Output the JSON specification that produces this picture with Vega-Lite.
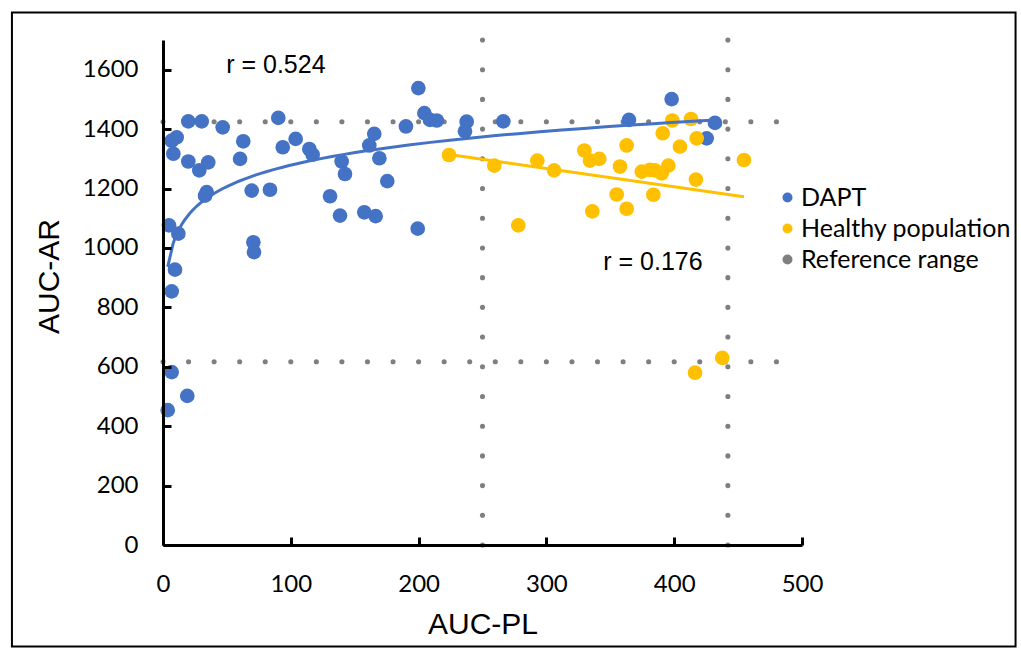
{
  "$schema": "https://vega.github.io/schema/vega-lite/v6.json",
  "width": 639,
  "height": 505,
  "autosize": {"type": "none"},
  "padding": {"left": 163, "top": 40, "right": 219, "bottom": 108},
  "background": "white",
  "config": {"view": {"stroke": null, "fill": null}},
  "datasets": {
    "pts": [
      {"g": "DAPT", "pl": 19.8, "ar": 1426}, {"g": "DAPT", "pl": 30.3, "ar": 1426}, {"g": "DAPT", "pl": 46.7, "ar": 1406},
      {"g": "DAPT", "pl": 90.2, "ar": 1438}, {"g": "DAPT", "pl": 6.8, "ar": 1361}, {"g": "DAPT", "pl": 10.7, "ar": 1372},
      {"g": "DAPT", "pl": 62.8, "ar": 1359}, {"g": "DAPT", "pl": 8.1, "ar": 1317}, {"g": "DAPT", "pl": 19.8, "ar": 1291},
      {"g": "DAPT", "pl": 28.4, "ar": 1261}, {"g": "DAPT", "pl": 35.4, "ar": 1288}, {"g": "DAPT", "pl": 60.3, "ar": 1300},
      {"g": "DAPT", "pl": 93.7, "ar": 1339}, {"g": "DAPT", "pl": 103.8, "ar": 1367}, {"g": "DAPT", "pl": 114.5, "ar": 1333},
      {"g": "DAPT", "pl": 117.1, "ar": 1314}, {"g": "DAPT", "pl": 139.8, "ar": 1291}, {"g": "DAPT", "pl": 142.4, "ar": 1249},
      {"g": "DAPT", "pl": 69.4, "ar": 1193}, {"g": "DAPT", "pl": 83.7, "ar": 1196}, {"g": "DAPT", "pl": 34.2, "ar": 1188},
      {"g": "DAPT", "pl": 32.9, "ar": 1176}, {"g": "DAPT", "pl": 130.7, "ar": 1174}, {"g": "DAPT", "pl": 138.5, "ar": 1109},
      {"g": "DAPT", "pl": 4.7, "ar": 1076}, {"g": "DAPT", "pl": 12, "ar": 1048}, {"g": "DAPT", "pl": 70.7, "ar": 1019},
      {"g": "DAPT", "pl": 71.2, "ar": 986}, {"g": "DAPT", "pl": 9.4, "ar": 927}, {"g": "DAPT", "pl": 6.8, "ar": 854},
      {"g": "DAPT", "pl": 6.8, "ar": 582}, {"g": "DAPT", "pl": 19, "ar": 502}, {"g": "DAPT", "pl": 3.7, "ar": 454},
      {"g": "DAPT", "pl": 199.8, "ar": 1538}, {"g": "DAPT", "pl": 204.5, "ar": 1454}, {"g": "DAPT", "pl": 208.9, "ar": 1431},
      {"g": "DAPT", "pl": 214.2, "ar": 1429}, {"g": "DAPT", "pl": 190.1, "ar": 1409}, {"g": "DAPT", "pl": 237.6, "ar": 1425},
      {"g": "DAPT", "pl": 236.3, "ar": 1393}, {"g": "DAPT", "pl": 266.3, "ar": 1426}, {"g": "DAPT", "pl": 165.3, "ar": 1384},
      {"g": "DAPT", "pl": 161.4, "ar": 1345}, {"g": "DAPT", "pl": 169.3, "ar": 1302}, {"g": "DAPT", "pl": 175.5, "ar": 1225},
      {"g": "DAPT", "pl": 157.5, "ar": 1120}, {"g": "DAPT", "pl": 166.4, "ar": 1107}, {"g": "DAPT", "pl": 199.3, "ar": 1065},
      {"g": "DAPT", "pl": 398, "ar": 1501}, {"g": "DAPT", "pl": 364.6, "ar": 1431}, {"g": "DAPT", "pl": 431.9, "ar": 1421},
      {"g": "DAPT", "pl": 425.4, "ar": 1369},
      {"g": "Healthy population", "pl": 223.8, "ar": 1313}, {"g": "Healthy population", "pl": 259.2, "ar": 1277},
      {"g": "Healthy population", "pl": 292.9, "ar": 1294}, {"g": "Healthy population", "pl": 306, "ar": 1261},
      {"g": "Healthy population", "pl": 278, "ar": 1076}, {"g": "Healthy population", "pl": 398.5, "ar": 1429},
      {"g": "Healthy population", "pl": 413.1, "ar": 1434}, {"g": "Healthy population", "pl": 391, "ar": 1386},
      {"g": "Healthy population", "pl": 417.6, "ar": 1369}, {"g": "Healthy population", "pl": 404.5, "ar": 1341},
      {"g": "Healthy population", "pl": 362.8, "ar": 1345}, {"g": "Healthy population", "pl": 329.7, "ar": 1328},
      {"g": "Healthy population", "pl": 334.1, "ar": 1294}, {"g": "Healthy population", "pl": 341.4, "ar": 1300},
      {"g": "Healthy population", "pl": 357.6, "ar": 1274}, {"g": "Healthy population", "pl": 374.6, "ar": 1257},
      {"g": "Healthy population", "pl": 381, "ar": 1263}, {"g": "Healthy population", "pl": 390.2, "ar": 1251},
      {"g": "Healthy population", "pl": 395.4, "ar": 1277}, {"g": "Healthy population", "pl": 385, "ar": 1261},
      {"g": "Healthy population", "pl": 417, "ar": 1230}, {"g": "Healthy population", "pl": 355, "ar": 1180},
      {"g": "Healthy population", "pl": 383.7, "ar": 1179}, {"g": "Healthy population", "pl": 335.9, "ar": 1123},
      {"g": "Healthy population", "pl": 362.8, "ar": 1132}, {"g": "Healthy population", "pl": 454.6, "ar": 1296},
      {"g": "Healthy population", "pl": 437.6, "ar": 630}, {"g": "Healthy population", "pl": 416.3, "ar": 580}
    ],
    "ref": [
      {"g": "Reference range", "pl": 0, "ar": 1425}, {"g": "Reference range", "pl": 20, "ar": 1425}, {"g": "Reference range", "pl": 40, "ar": 1425},
      {"g": "Reference range", "pl": 60, "ar": 1425}, {"g": "Reference range", "pl": 80, "ar": 1425}, {"g": "Reference range", "pl": 100, "ar": 1425},
      {"g": "Reference range", "pl": 120, "ar": 1425}, {"g": "Reference range", "pl": 140, "ar": 1425}, {"g": "Reference range", "pl": 160, "ar": 1425},
      {"g": "Reference range", "pl": 180, "ar": 1425}, {"g": "Reference range", "pl": 200, "ar": 1425}, {"g": "Reference range", "pl": 220, "ar": 1425},
      {"g": "Reference range", "pl": 240, "ar": 1425}, {"g": "Reference range", "pl": 260, "ar": 1425}, {"g": "Reference range", "pl": 280, "ar": 1425},
      {"g": "Reference range", "pl": 300, "ar": 1425}, {"g": "Reference range", "pl": 320, "ar": 1425}, {"g": "Reference range", "pl": 340, "ar": 1425},
      {"g": "Reference range", "pl": 360, "ar": 1425}, {"g": "Reference range", "pl": 380, "ar": 1425}, {"g": "Reference range", "pl": 400, "ar": 1425},
      {"g": "Reference range", "pl": 420, "ar": 1425}, {"g": "Reference range", "pl": 440, "ar": 1425}, {"g": "Reference range", "pl": 460, "ar": 1425},
      {"g": "Reference range", "pl": 480, "ar": 1425},
      {"g": "Reference range", "pl": 0, "ar": 617}, {"g": "Reference range", "pl": 20, "ar": 617}, {"g": "Reference range", "pl": 40, "ar": 617},
      {"g": "Reference range", "pl": 60, "ar": 617}, {"g": "Reference range", "pl": 80, "ar": 617}, {"g": "Reference range", "pl": 100, "ar": 617},
      {"g": "Reference range", "pl": 120, "ar": 617}, {"g": "Reference range", "pl": 140, "ar": 617}, {"g": "Reference range", "pl": 160, "ar": 617},
      {"g": "Reference range", "pl": 180, "ar": 617}, {"g": "Reference range", "pl": 200, "ar": 617}, {"g": "Reference range", "pl": 220, "ar": 617},
      {"g": "Reference range", "pl": 240, "ar": 617}, {"g": "Reference range", "pl": 260, "ar": 617}, {"g": "Reference range", "pl": 280, "ar": 617},
      {"g": "Reference range", "pl": 300, "ar": 617}, {"g": "Reference range", "pl": 320, "ar": 617}, {"g": "Reference range", "pl": 340, "ar": 617},
      {"g": "Reference range", "pl": 360, "ar": 617}, {"g": "Reference range", "pl": 380, "ar": 617}, {"g": "Reference range", "pl": 400, "ar": 617},
      {"g": "Reference range", "pl": 420, "ar": 617}, {"g": "Reference range", "pl": 440, "ar": 617}, {"g": "Reference range", "pl": 460, "ar": 617},
      {"g": "Reference range", "pl": 480, "ar": 617},
      {"g": "Reference range", "pl": 250, "ar": 0}, {"g": "Reference range", "pl": 250, "ar": 100}, {"g": "Reference range", "pl": 250, "ar": 200},
      {"g": "Reference range", "pl": 250, "ar": 300}, {"g": "Reference range", "pl": 250, "ar": 400}, {"g": "Reference range", "pl": 250, "ar": 500},
      {"g": "Reference range", "pl": 250, "ar": 600}, {"g": "Reference range", "pl": 250, "ar": 700}, {"g": "Reference range", "pl": 250, "ar": 800},
      {"g": "Reference range", "pl": 250, "ar": 900}, {"g": "Reference range", "pl": 250, "ar": 1000}, {"g": "Reference range", "pl": 250, "ar": 1100},
      {"g": "Reference range", "pl": 250, "ar": 1200}, {"g": "Reference range", "pl": 250, "ar": 1300}, {"g": "Reference range", "pl": 250, "ar": 1400},
      {"g": "Reference range", "pl": 250, "ar": 1500}, {"g": "Reference range", "pl": 250, "ar": 1600}, {"g": "Reference range", "pl": 250, "ar": 1700},
      {"g": "Reference range", "pl": 442, "ar": 0}, {"g": "Reference range", "pl": 442, "ar": 100}, {"g": "Reference range", "pl": 442, "ar": 200},
      {"g": "Reference range", "pl": 442, "ar": 300}, {"g": "Reference range", "pl": 442, "ar": 400}, {"g": "Reference range", "pl": 442, "ar": 500},
      {"g": "Reference range", "pl": 442, "ar": 600}, {"g": "Reference range", "pl": 442, "ar": 700}, {"g": "Reference range", "pl": 442, "ar": 800},
      {"g": "Reference range", "pl": 442, "ar": 900}, {"g": "Reference range", "pl": 442, "ar": 1000}, {"g": "Reference range", "pl": 442, "ar": 1100},
      {"g": "Reference range", "pl": 442, "ar": 1200}, {"g": "Reference range", "pl": 442, "ar": 1300}, {"g": "Reference range", "pl": 442, "ar": 1400},
      {"g": "Reference range", "pl": 442, "ar": 1500}, {"g": "Reference range", "pl": 442, "ar": 1600}, {"g": "Reference range", "pl": 442, "ar": 1700}
    ]
  },
  "layer": [
    {
      "data": {"name": "ref"},
      "mark": {"type": "circle", "size": 26, "opacity": 1},
      "encoding": {
        "x": {"field": "pl", "type": "quantitative", "scale": {"domain": [0, 500], "nice": false, "zero": false},
          "axis": {"title": "AUC-PL", "values": [0, 100, 200, 300, 400, 500], "grid": false, "format": "d", "labelFlush": false, "zindex": 1,
            "domainColor": "black", "domainWidth": 3, "ticks": true, "tickColor": "black", "tickWidth": 3, "tickSize": -8, "tickOpacity": 1,
            "labelFont": "Lato", "labelFontSize": 24, "labelColor": "black", "labelPadding": 35,
            "titleFont": "Liberation Sans", "titleFontSize": 30, "titleFontWeight": "normal", "titleColor": "black",
            "titleY": 88, "titleBaseline": "alphabetic"}},
        "y": {"field": "ar", "type": "quantitative", "scale": {"domain": [0, 1700], "nice": false, "zero": false},
          "axis": {"title": "AUC-AR", "values": [0, 200, 400, 600, 800, 1000, 1200, 1400, 1600], "grid": false, "format": "d", "labelFlush": false, "zindex": 1,
            "domainColor": "black", "domainWidth": 3, "ticks": true, "tickColor": "black", "tickWidth": 3, "tickSize": -8, "tickOpacity": 1,
            "labelFont": "Lato", "labelFontSize": 24, "labelColor": "black", "labelPadding": 33,
            "titleFont": "Liberation Sans", "titleFontSize": 30, "titleFontWeight": "normal", "titleColor": "black",
            "titleX": -105, "titleY": 236, "titleAngle": 270, "titleAlign": "center", "titleBaseline": "alphabetic"}},
        "color": {"field": "g", "type": "nominal",
          "scale": {"domain": ["DAPT", "Healthy population", "Reference range"], "range": ["#4472C4", "#FFC000", "#7F7F7F"]},
          "legend": {"title": null, "orient": "none", "legendX": 612, "legendY": 145, "padding": 0, "labelLimit": 400,
            "symbolType": "circle", "labelFont": "Lato", "labelFontSize": 25, "labelColor": "black", "rowPadding": 5, "labelOffset": 1,
            "encode": {"symbols": {"update": {"size": {"signal": "datum.value === 'Reference range' ? 22 : 150"}, "strokeWidth": {"value": 0}}}}}}
      }
    },
    {
      "data": {"name": "pts"},
      "mark": {"type": "circle", "size": 215, "opacity": 1},
      "encoding": {
        "x": {"field": "pl", "type": "quantitative", "scale": {"domain": [0, 500], "nice": false, "zero": false}},
        "y": {"field": "ar", "type": "quantitative", "scale": {"domain": [0, 1700], "nice": false, "zero": false}},
        "color": {"field": "g", "type": "nominal"}
      }
    },
    {
      "data": {"name": "pts"},
      "transform": [
        {"filter": "datum.g === 'DAPT'"},
        {"regression": "ar", "on": "pl", "method": "log"}
      ],
      "mark": {"type": "line", "color": "#4472C4", "strokeWidth": 3},
      "encoding": {
        "x": {"field": "pl", "type": "quantitative", "scale": {"domain": [0, 500], "nice": false, "zero": false}},
        "y": {"field": "ar", "type": "quantitative", "scale": {"domain": [0, 1700], "nice": false, "zero": false}}
      }
    },
    {
      "data": {"name": "pts"},
      "transform": [
        {"filter": "datum.g === 'Healthy population'"},
        {"regression": "ar", "on": "pl", "method": "linear"}
      ],
      "mark": {"type": "line", "color": "#FFC000", "strokeWidth": 3},
      "encoding": {
        "x": {"field": "pl", "type": "quantitative", "scale": {"domain": [0, 500], "nice": false, "zero": false}},
        "y": {"field": "ar", "type": "quantitative", "scale": {"domain": [0, 1700], "nice": false, "zero": false}}
      }
    },
    {
      "data": {"values": [{"pl": 88.3, "ar": 1617, "t": "r = 0.524"}, {"pl": 383.4, "ar": 952, "t": "r = 0.176"}]},
      "mark": {"type": "text", "font": "Liberation Sans", "fontSize": 25, "color": "black", "align": "center", "baseline": "middle"},
      "encoding": {
        "x": {"field": "pl", "type": "quantitative", "scale": {"domain": [0, 500], "nice": false, "zero": false}},
        "y": {"field": "ar", "type": "quantitative", "scale": {"domain": [0, 1700], "nice": false, "zero": false}},
        "text": {"field": "t"}
      }
    },
    {
      "data": {"values": [{"x0": -118.2, "x1": 667.1, "y0": 1792.5, "y1": -341.7}]},
      "mark": {"type": "rect", "fill": "transparent", "stroke": "black", "strokeWidth": 2, "clip": false},
      "encoding": {
        "x": {"field": "x0", "type": "quantitative", "scale": {"domain": [0, 500], "nice": false, "zero": false}},
        "x2": {"field": "x1"},
        "y": {"field": "y0", "type": "quantitative", "scale": {"domain": [0, 1700], "nice": false, "zero": false}},
        "y2": {"field": "y1"}
      }
    }
  ]
}
